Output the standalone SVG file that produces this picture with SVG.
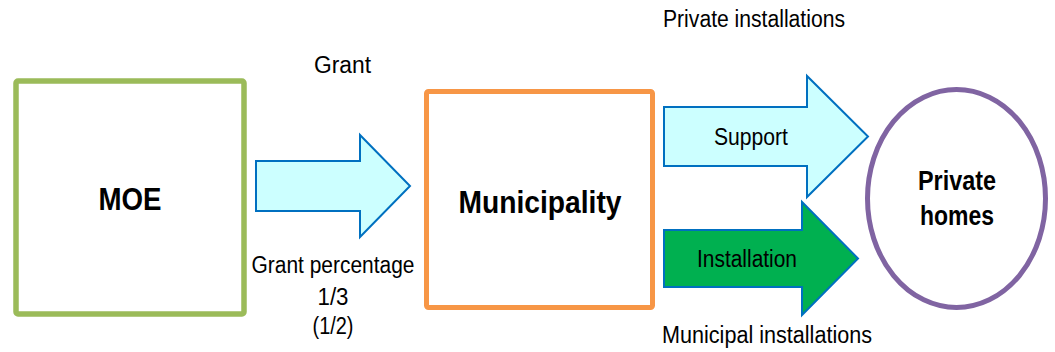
<svg xmlns="http://www.w3.org/2000/svg" width="1055" height="352" viewBox="0 0 1055 352">
<style>
text{font-family:"Liberation Sans",Arial,sans-serif;fill:#000;text-anchor:middle}
.lbl{font-size:23px}
.big{font-size:32px;font-weight:bold}
.home{font-size:27px;font-weight:bold}
.arr{stroke:#0070C0;stroke-width:2;stroke-linejoin:miter}
.light{fill:#CCFFFF}
.green{fill:#00B050}
</style>
<rect width="1055" height="352" fill="#fff"/>
<g id="moe">
<rect x="16" y="81" width="228" height="233" rx="2" fill="#fff" stroke="#9BBB59" stroke-width="5.5"/>
<text class="big" x="130" y="210" textLength="63" lengthAdjust="spacingAndGlyphs">MOE</text>
</g>
<g id="municipality">
<rect x="426.5" y="91.5" width="226" height="216" rx="2" fill="#fff" stroke="#F79646" stroke-width="5"/>
<text class="big" x="540" y="213" textLength="163" lengthAdjust="spacingAndGlyphs">Municipality</text>
</g>
<g id="private-homes">
<ellipse cx="956.5" cy="198.5" rx="89" ry="109" fill="#fff" stroke="#8064A2" stroke-width="5"/>
<text class="home" x="957" y="190" textLength="78" lengthAdjust="spacingAndGlyphs">Private</text>
<text class="home" x="957" y="225" textLength="74" lengthAdjust="spacingAndGlyphs">homes</text>
</g>
<g id="connectors">
<g id="grant-arrow">
<polygon class="arr light" points="256,161 360,161 360,135 410,186 360,237 360,211 256,211"/>
<text class="lbl" x="342.5" y="73" textLength="57" lengthAdjust="spacingAndGlyphs">Grant</text>
<text class="lbl" x="333" y="273" textLength="163" lengthAdjust="spacingAndGlyphs">Grant percentage</text>
<text class="lbl" x="333" y="305" textLength="31" lengthAdjust="spacingAndGlyphs">1/3</text>
<text class="lbl" x="333" y="334" textLength="41" lengthAdjust="spacingAndGlyphs">(1/2)</text>
</g>
<g id="support-arrow">
<polygon class="arr light" points="664,107 807,107 807,76 868,136.5 807,197 807,166 664,166"/>
<text class="lbl" x="751" y="145" textLength="74" lengthAdjust="spacingAndGlyphs">Support</text>
<text class="lbl" x="754" y="27" textLength="182" lengthAdjust="spacingAndGlyphs">Private installations</text>
</g>
<g id="installation-arrow">
<polygon class="arr green" points="664,230 802,230 802,202 858,258.5 802,315 802,287 664,287"/>
<text class="lbl" x="747" y="267" textLength="100" lengthAdjust="spacingAndGlyphs">Installation</text>
<text class="lbl" x="767" y="343" textLength="210" lengthAdjust="spacingAndGlyphs">Municipal installations</text>
</g>
</g>
</svg>
